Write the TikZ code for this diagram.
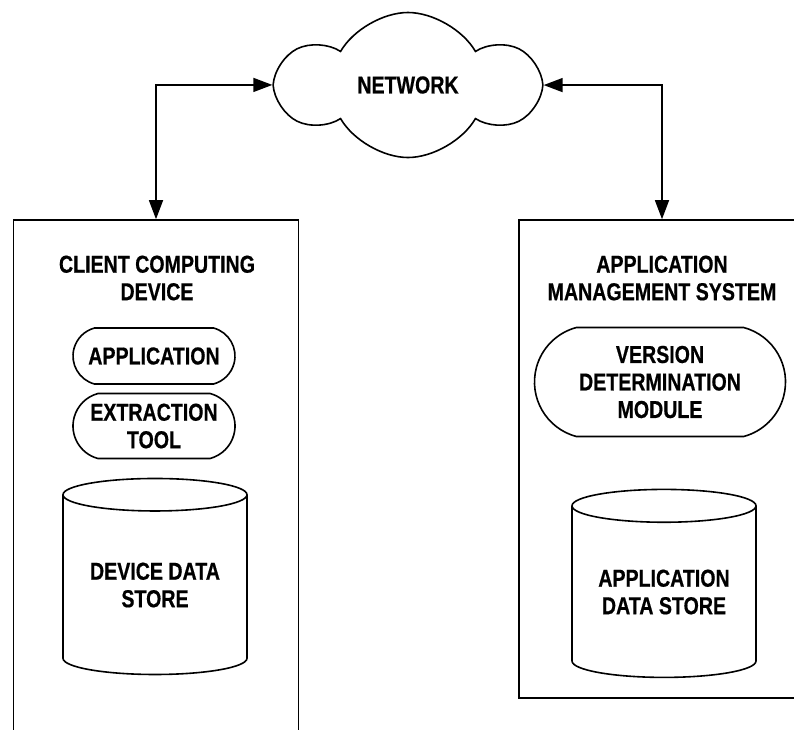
\documentclass[tikz,border=0pt]{standalone}
\usepackage{fontspec}
\setmainfont{Liberation Sans}[FakeStretch=0.8,FakeBold=0.6]
\usepackage{tikz}
\usetikzlibrary{arrows.meta,positioning,shapes.symbols,shapes.misc,shapes.geometric}
\tikzset{
    %Define standard arrow tip
    >={Triangle[length=19pt,width=14pt]},
    %Define style for the big system boxes
    sysbox/.style={
           rectangle,
           draw=black, line width=1.6pt},
    %Define style for titles and labels
    lbl/.style={
           font=\bfseries\fontsize{24.5}{27.5}\selectfont,
           align=center,
           inner sep=0pt},
    % Define module style
    module/.style={
           lbl,
           rounded rectangle,
           rounded rectangle arc length=150,
           draw=black, line width=1.6pt},
    % Define data store style
    store/.style={
           lbl,
           cylinder,
           shape border rotate=90,
           aspect=0.25,
           draw=black, line width=1.6pt},
    % Define arrow style
    link/.style={
           <->,
           line width=1.5pt}
}

\begin{document}
\begin{tikzpicture}[x=1pt, y=-1pt]
    \useasboundingbox (0,0) rectangle (794,729);
    \clip (0,0) rectangle (794,729);

    % NETWORK
    \node[lbl, cloud, cloud puffs=6, cloud puff arc=120, aspect=1.86,
          shape border rotate=30,
          draw=black, line width=1.6pt,
          minimum width=256pt, minimum height=145pt] at (408,85) (net) {NETWORK};

    % CLIENT SIDE
    \node[sysbox, minimum width=285pt, minimum height=580pt] at (156,510) (client) {};
    \node[lbl] at (157,278) (clienttitle) {CLIENT COMPUTING\\DEVICE};
    \node[module, minimum width=162pt, minimum height=56pt] at (154,356) (app) {APPLICATION};
    \node[module, minimum width=162pt, minimum height=65pt] at (154,426) (tool) {EXTRACTION\\TOOL};
    \node[store, minimum width=184pt, minimum height=196pt] at (155,585) (devstore) {DEVICE DATA\\STORE};

    % SERVER SIDE
    \node[sysbox, minimum width=286pt, minimum height=478pt] at (662,459) (ams) {};
    \node[lbl] at (662,278) (amstitle) {APPLICATION\\MANAGEMENT SYSTEM};
    \node[module, minimum width=251pt, minimum height=109pt] at (660,382) (vdm) {VERSION\\DETERMINATION\\MODULE};
    \node[store, minimum width=184pt, minimum height=188pt] at (664,592) (appstore) {APPLICATION\\DATA STORE};

    \draw[link] (client.north) |- (net.west);
    \draw[link] (ams.north) |- (net.east);

    \end{tikzpicture}
\end{document}
